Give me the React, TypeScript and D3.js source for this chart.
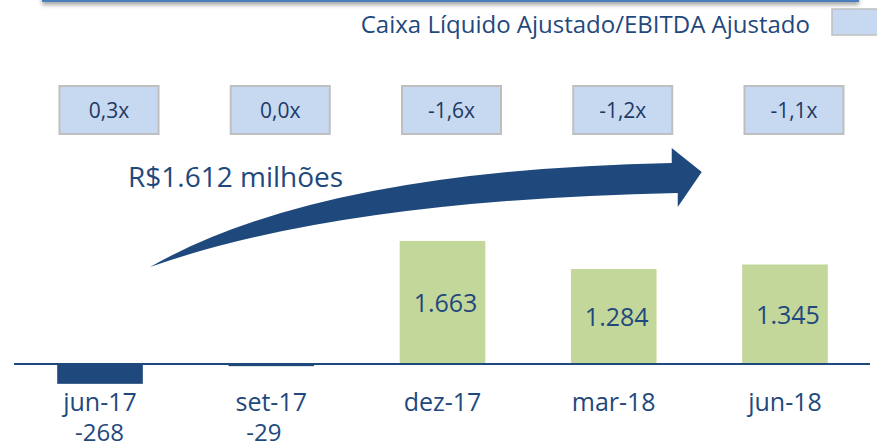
import React from "react";
import * as d3 from "d3";

// data
const periods = ["jun-17", "set-17", "dez-17", "mar-18", "jun-18"];
const netCash = [-268, -29, 1663, 1284, 1345];
const netCashLabels = ["-268", "-29", "1.663", "1.284", "1.345"];
const ratioLabels = ["0,3x", "0,0x", "-1,6x", "-1,2x", "-1,1x"];
const legendLabel = "Caixa Líquido Ajustado/EBITDA Ajustado";
const arrowLabel = "R$1.612 milhões";

const W = 877;
const H = 446;
const FONT = "'Open Sans', 'DejaVu Sans', sans-serif";
const DARK = "#1F3864";
const BLUE = "#1F497D";
const GREEN = "#C4D79B";
const BOX = "#C6D9F1";
const BOX_EDGE = "#BFBFBF";

export default function App() {
  const x = d3.scaleBand<string>().domain(periods).range([14.4, 870.6]).paddingInner(0.5).paddingOuter(0.25);
  const y = d3.scaleLinear().domain([0, 1700]).range([364, 364 - 1700 * 0.074]);
  const cx = (p: string) => (x(p) ?? 0) + x.bandwidth() / 2;

  // curved arrow, anchored on the first and fourth period
  const x0 = cx(periods[0]) + 50;
  const xh = cx(periods[3]) + 58;
  const arrow = d3.path();
  arrow.moveTo(x0, 267);
  arrow.quadraticCurveTo(x0 + 170, 170, xh, 163);
  arrow.lineTo(xh, 148);
  arrow.lineTo(xh + 30, 172);
  arrow.lineTo(xh + 6, 207);
  arrow.lineTo(xh + 6, 193);
  arrow.quadraticCurveTo(x0 + 190, 200, x0, 267);
  arrow.closePath();

  return (
    <svg width={W} height={H} style={{ position: "absolute", left: 0, top: 0, display: "block" }} fontFamily={FONT}>
      <defs>
        <filter id="shadow" x="-5%" y="-50%" width="110%" height="300%">
          <feDropShadow dx="0" dy="3" stdDeviation="2" floodColor="#000" floodOpacity="0.35" />
        </filter>
      </defs>
      <rect width={W} height={H} fill="#fff" />

      {/* header box cut off by the top edge */}
      <rect x={43} y={-30} width={815} height={31} fill="#fff" stroke="#4A7EBB" strokeWidth={2} filter="url(#shadow)" />

      {/* legend */}
      <text x={810} y={33} textAnchor="end" fontSize={24} fill={BLUE}>{legendLabel}</text>
      <rect x={832} y={9} width={60} height={26} fill={BOX} stroke={BOX_EDGE} strokeWidth={1.5} />

      {/* ratio boxes */}
      {periods.map((p, i) => (
        <g key={p}>
          <rect x={cx(p) + 9 - 49.5} y={86} width={99} height={48} fill={BOX} stroke={BOX_EDGE} strokeWidth={2} />
          <text x={cx(p) + 9} y={118} textAnchor="middle" fontSize={21} fill={DARK}>{ratioLabels[i]}</text>
        </g>
      ))}

      {/* arrow */}
      <path d={arrow.toString()} fill={BLUE} />
      <text x={128} y={187} fontSize={28} fill={BLUE}>{arrowLabel}</text>

      {/* bars */}
      {periods.map((p, i) => {
        const v = netCash[i];
        const y0 = y(Math.max(0, v));
        const h = Math.abs(y(v) - y(0));
        return (
          <rect key={p} x={x(p)} y={y0} width={x.bandwidth()} height={Math.max(h, 2)} fill={v < 0 ? BLUE : GREEN} />
        );
      })}

      {/* value labels */}
      {periods.map((p, i) => {
        const v = netCash[i];
        if (v < 0) {
          return (
            <text key={p} x={cx(p) - 25} y={441} fontSize={24} fill={BLUE}>{netCashLabels[i]}</text>
          );
        }
        return (
          <text key={p} x={cx(p) + 3} y={(y(v) + y(0)) / 2 + 10} textAnchor="middle" fontSize={25} fill={BLUE}>
            {netCashLabels[i]}
          </text>
        );
      })}

      {/* zero line */}
      <line x1={14} x2={870} y1={y(0)} y2={y(0)} stroke={BLUE} strokeWidth={2} />

      {/* category labels */}
      {periods.map((p) => (
        <text key={p} x={cx(p)} y={411} textAnchor="middle" fontSize={25} fill={BLUE}>{p}</text>
      ))}
    </svg>
  );
}
